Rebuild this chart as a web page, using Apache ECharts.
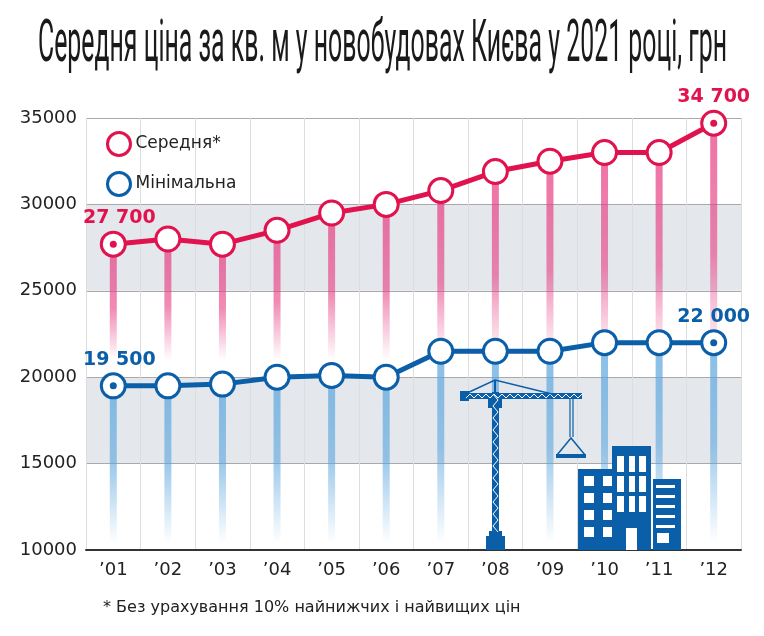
<!DOCTYPE html>
<html lang="uk">
<head>
<meta charset="UTF-8">
<title>Середня ціна за кв. м у новобудовах Києва</title>
<script src="https://cdn.jsdelivr.net/npm/echarts@6/dist/echarts.min.js"></script>
<style>
    html, body {margin: 0; padding: 0; background: #fff;}
    #chart {width: 764px; height: 636px;}
</style>
</head>
<body>
<div id="chart"></div>
<script>
    // дані
    var years = ['’01', '’02', '’03', '’04', '’05', '’06', '’07', '’08', '’09', '’10', '’11', '’12'];
    var avgPrice = [27700, 28000, 27700, 28500, 29500, 30000, 30800, 31900, 32500, 33000, 33000, 34700];
    var minPrice = [19500, 19500, 19600, 20000, 20100, 20000, 21500, 21500, 21500, 22000, 22000, 22000];
    var yMin = 10000, yMax = 35000, yStep = 5000;

    var PINK = '#e0134f';
    var BLUE = '#0a5fa8';
    var FONT = 'DejaVu Sans';
    var TITLE_FONT = '400 60px Roboto';
    var titleText = 'Середня ціна за кв. м у новобудовах Києва у 2021 році, грн';
    var noteText = '* Без урахування 10% найнижчих і найвищих цін';

    // заголовок стиснутий по ширині
    var ctx = document.createElement('canvas').getContext('2d');
    ctx.font = TITLE_FONT;
    var titleScale = 689 / ctx.measureText(titleText).width;

    function thousands(v) {
        return String(v).replace(/\B(?=(\d{3})+$)/g, ' ');
    }

    // вертикальні "стебла" з градієнтом
    function stemSeries(values, base, rgb, solid) {
        return {
            type: 'custom',
            silent: true,
            z: 1,
            data: values.map(function (v, i) { return [i, v]; }),
            renderItem: function (params, api) {
                var top = api.coord([api.value(0), api.value(1)]);
                var bot = api.coord([api.value(0), base]);
                return {
                    type: 'rect',
                    shape: {x: top[0] - 3.5, y: top[1], width: 7, height: bot[1] - top[1]},
                    style: {
                        fill: new echarts.graphic.LinearGradient(0, 0, 0, 1, [
                            {offset: 0, color: 'rgba(' + rgb + ',0.72)'},
                            {offset: solid, color: 'rgba(' + rgb + ',0.6)'},
                            {offset: 1, color: 'rgba(' + rgb + ',0)'}
                        ])
                    }
                };
            }
        };
    }

    function endDots(values, color) {
        var last = values.length - 1;
        return {
            type: 'scatter',
            z: 5,
            silent: true,
            symbolSize: 7,
            itemStyle: {color: color, opacity: 1},
            data: [
                {value: [0, values[0]], label: {offset: [6, 0]}},
                {value: [last, values[last]]}
            ],
            label: {
                show: true,
                position: 'top',
                distance: 13,
                color: color,
                fontFamily: FONT,
                fontWeight: 'bold',
                fontSize: 19,
                formatter: function (p) { return thousands(p.value[1]); }
            }
        };
    }

    // кран і будинки
    var deco = [];
    function r(x, y, w, h, fill) {
        deco.push({type: 'rect', z: 100, shape: {x: x, y: y, width: w, height: h}, style: {fill: fill || BLUE}});
    }
    function ln(pts, w, color) {
        deco.push({type: 'polyline', z: 101, shape: {points: pts}, style: {stroke: color || BLUE, lineWidth: w, fill: null}});
    }
    // щогла
    r(492, 392, 7, 144);
    var zz = [];
    for (var k = 0; k < 24; k++) zz.push([k % 2 ? 498 : 493, 394 + k * 6]);
    ln(zz, 1, '#fff');
    r(489, 531, 13, 6);
    r(486, 536, 19, 14);
    // стріла
    r(462, 393, 120, 6);
    var zj = [];
    for (var j = 0; j < 30; j++) zj.push([466 + j * 4, j % 2 ? 394 : 398]);
    ln(zj, 1, '#fff');
    r(460, 391, 9, 10);
    r(488, 399, 14, 9);
    ln([[465, 394], [495, 380], [552, 394]], 1.5);
    ln([[495, 380], [495, 393]], 2);
    // трос і гак
    ln([[570, 399], [570, 437]], 1.2);
    ln([[573, 399], [573, 437]], 1.2);
    ln([[557, 455], [571, 438], [585, 455]], 1.5);
    r(556, 454, 30, 4);
    // будинок ліворуч
    r(578, 469, 34, 81);
    [476, 493, 510, 527].forEach(function (y) {
        r(584, y, 10, 10, '#fff');
        r(603, y, 9, 10, '#fff');
    });
    // центральний
    r(612, 446, 39, 104);
    [456, 476, 496].forEach(function (y) {
        r(617, y, 7, 16, '#fff');
        r(629, y, 6, 16, '#fff');
        r(639, y, 7, 16, '#fff');
    });
    r(626, 528, 11, 22, '#fff');
    // праворуч
    r(653, 479, 28, 71);
    [485, 495, 505, 515, 525].forEach(function (y) {
        r(656, y, 19, 3, '#fff');
    });
    r(657, 533, 12, 10, '#fff');

    deco.push({
        type: 'text', z: 100, x: 38, y: 16, scaleX: titleScale,
        style: {text: titleText, font: TITLE_FONT, fill: '#1a1a1a', verticalAlign: 'top'}
    });
    deco.push({
        type: 'text', z: 100, x: 103, y: 608,
        style: {text: noteText, font: '16px "' + FONT + '"', fill: '#222', verticalAlign: 'middle'}
    });

    var chart = echarts.init(document.getElementById('chart'));
    chart.setOption({
        animation: false,
        backgroundColor: '#fff',
        grid: {left: 86, right: 23, top: 118, bottom: 86},
        legend: {
            orient: 'vertical',
            left: 101,
            top: 126,
            itemWidth: 23,
            itemHeight: 23,
            itemGap: 14,
            icon: 'circle',
            textStyle: {fontFamily: FONT, fontSize: 17, color: '#222'},
            data: [
                {name: 'Середня*', itemStyle: {color: '#fff', borderColor: PINK, borderWidth: 3}},
                {name: 'Мінімальна', itemStyle: {color: '#fff', borderColor: BLUE, borderWidth: 3}}
            ]
        },
        xAxis: {
            type: 'category',
            data: years,
            boundaryGap: true,
            axisLine: {lineStyle: {color: '#333', width: 2}},
            axisTick: {show: false},
            axisLabel: {fontFamily: FONT, fontSize: 18, color: '#222', margin: 11},
            splitLine: {show: true, lineStyle: {color: '#dddddd', width: 1}}
        },
        yAxis: {
            type: 'value',
            min: yMin,
            max: yMax,
            interval: yStep,
            axisLine: {show: false},
            axisTick: {show: false},
            axisLabel: {
                fontFamily: FONT, fontSize: 18, color: '#222', margin: 9,
                formatter: function (v) { return String(v); }
            },
            splitLine: {lineStyle: {color: '#a9a9a9', width: 1}},
            splitArea: {show: true, areaStyle: {color: ['rgba(0,0,0,0)', '#e4e8ec']}}
        },
        graphic: deco,
        series: [
            stemSeries(avgPrice, 21000, '230,60,130', 0.55),
            stemSeries(minPrice, 10400, '90,165,222', 0.5),
            {
                name: 'Середня*',
                type: 'line',
                z: 3,
                data: avgPrice,
                symbol: 'circle',
                symbolSize: 24,
                lineStyle: {color: PINK, width: 5},
                itemStyle: {color: '#fff', borderColor: PINK, borderWidth: 3}
            },
            {
                name: 'Мінімальна',
                type: 'line',
                z: 3,
                data: minPrice,
                symbol: 'circle',
                symbolSize: 24,
                lineStyle: {color: BLUE, width: 5},
                itemStyle: {color: '#fff', borderColor: BLUE, borderWidth: 3}
            },
            endDots(avgPrice, PINK),
            endDots(minPrice, BLUE)
        ]
    });
</script>
</body>
</html>
